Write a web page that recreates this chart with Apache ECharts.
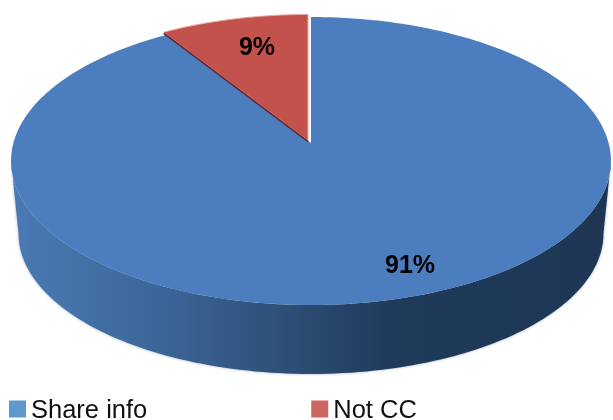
<!DOCTYPE html>
<html>
<head>
<meta charset="utf-8">
<style>html,body{margin:0;padding:0;background:#fff}#c{width:613px;height:420px}</style>
<script src="https://cdn.jsdelivr.net/npm/echarts@6/dist/echarts.min.js"></script>
</head>
<body>
<div id="c"></div>
<script>
var categories = ['Share info', 'Not CC'];
var values = [91, 9];
var labels = ['91%', '9%'];

var topColors = ['#4c7ebf', '#c3524c'];
var legendColors = ['#6297ce', '#cc655f'];
var labelPos = [[410, 266], [257, 48]];
var C = {x: 311, y: 143, R: 297.6, A: 141.75, k: 0.125};
var wall = {dy: 73, scale: 0.975};
var total = values[0] + values[1];

function project(theta, scale, dy) {
  var u = Math.sin(theta), v = Math.cos(theta);
  var s = scale / (1 + C.k * v);
  return [C.x + C.R * u * s, C.y + dy - C.A * v * s];
}
function arc(a0, a1, scale, dy, n) {
  var pts = [];
  for (var i = 0; i <= n; i++) pts.push(project(a0 + (a1 - a0) * i / n, scale, dy));
  return pts;
}
function renderSlice(index) {
  return function () {
    var share = values[index] / total * 2 * Math.PI;
    var children = [];
    var textStyle = {
      text: labels[index], x: labelPos[index][0], y: labelPos[index][1],
      align: 'center', verticalAlign: 'middle',
      font: 'bold 25px "Liberation Sans", Arial, sans-serif', fill: '#000'
    };
    if (index === 0) {
      var a = Math.PI * 0.54, b = Math.PI * 1.46;
      var wallPts = arc(a, b, 1, 0, 120).concat(arc(b, a, wall.scale, wall.dy, 120));
      children.push({
        type: 'polygon', shape: {points: wallPts},
        style: {
          fill: new echarts.graphic.LinearGradient(0, 0, 1, 0, [
            {offset: 0, color: '#4a7ab4'}, {offset: 0.25, color: '#3c6698'},
            {offset: 0.5, color: '#2a4a70'}, {offset: 0.64, color: '#1f3a5a'},
            {offset: 1, color: '#1e3654'}
          ]),
          shadowBlur: 3, shadowColor: 'rgba(40,70,110,0.45)'
        }
      });
      var pts = [[C.x, C.y]].concat(arc(0, share, 1, 0, 360));
      children.push({type: 'polygon', shape: {points: pts}, style: {fill: topColors[0]}});
    } else {
      var dx = -3, dy = -2.5;
      var rim = arc(0, -share, 1, dy, 60).map(function (p) { return [p[0] + dx, p[1]]; });
      var apex = [C.x + dx, C.y + dy];
      children.push({
        type: 'polygon', shape: {points: [apex].concat(rim)},
        style: {fill: topColors[1], stroke: '#e9a9a2', lineWidth: 1}
      });
      children.push({
        type: 'line',
        shape: {x1: apex[0], y1: apex[1] + 1, x2: rim[60][0], y2: rim[60][1] + 1},
        style: {stroke: '#6b2b3a', lineWidth: 2}
      });
    }
    children.push({type: 'text', z2: 10, style: textStyle});
    return {type: 'group', children: children};
  };
}

var chart = echarts.init(document.getElementById('c'), null, {renderer: 'canvas'});
chart.setOption({
  animation: false,
  backgroundColor: '#fff',
  legend: {
    left: 9, top: 398, padding: 0, itemWidth: 17, itemHeight: 17, itemGap: 164,
    formatter: '{a|{name}}',
    textStyle: {
      fontFamily: '"Liberation Sans", Arial, sans-serif', fontSize: 25.5, color: '#111',
      rich: {a: {fontFamily: '"Liberation Sans", Arial, sans-serif', fontSize: 25.5, color: '#111', padding: [4, 0, 0, 0]}}
    },
    data: categories.map(function (n, i) {
      return {name: n, icon: 'rect', itemStyle: {color: legendColors[i]}};
    })
  },
  series: categories.map(function (n, i) {
    return {
      type: 'custom', name: n, coordinateSystem: 'none',
      data: [values[i]], renderItem: renderSlice(i),
      itemStyle: {color: legendColors[i]}, clip: false, silent: true
    };
  })
});
</script>
</body>
</html>
